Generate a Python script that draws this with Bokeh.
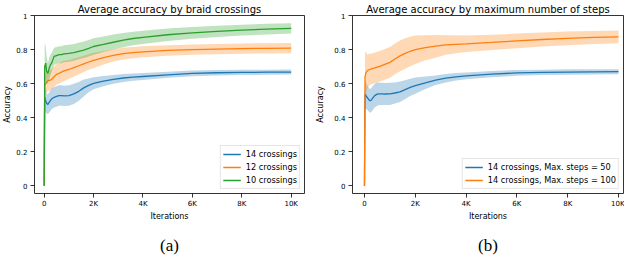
from bokeh.plotting import figure
from bokeh.layouts import row
from bokeh.models import Range1d, FixedTicker, Legend, LegendItem, Title
from bokeh.embed import file_html
from bokeh.resources import INLINE

# ---------------- data ----------------
X = [0, 20, 60, 100, 150, 200, 250, 300, 400, 500, 600, 700, 800, 1000, 1200,
     1400, 1600, 1800, 2000, 2400, 2800, 3200, 3600, 4000, 5000, 6000, 7000,
     8000, 9000, 10000]

# (a) 14 crossings
a14_mean = [0, 0.52, 0.50, 0.485, 0.478, 0.49, 0.50, 0.51, 0.52, 0.525, 0.53, 0.53, 0.528, 0.53, 0.54,
            0.555, 0.575, 0.59, 0.602, 0.615, 0.625, 0.633, 0.638, 0.642, 0.652, 0.66, 0.664,
            0.666, 0.667, 0.668]
a14_lo = [0, 0.44, 0.43, 0.425, 0.42, 0.43, 0.44, 0.45, 0.46, 0.465, 0.47, 0.47, 0.468, 0.47, 0.48,
          0.50, 0.525, 0.55, 0.567, 0.585, 0.60, 0.61, 0.617, 0.622, 0.634, 0.643, 0.648,
          0.65, 0.652, 0.653]
a14_hi = [0, 0.60, 0.57, 0.545, 0.536, 0.55, 0.56, 0.57, 0.58, 0.585, 0.59, 0.59, 0.588, 0.59, 0.60,
          0.61, 0.625, 0.63, 0.637, 0.645, 0.65, 0.656, 0.659, 0.662, 0.67, 0.677, 0.68,
          0.682, 0.682, 0.683]
# (a) 12 crossings
a12_mean = [0, 0.59, 0.60, 0.61, 0.615, 0.62, 0.62, 0.625, 0.64, 0.654, 0.66, 0.668, 0.675, 0.683, 0.694,
            0.705, 0.716, 0.727, 0.737, 0.752, 0.766, 0.776, 0.782, 0.787, 0.795, 0.800, 0.803,
            0.806, 0.807, 0.808]
a12_lo = [0, 0.53, 0.54, 0.55, 0.555, 0.56, 0.56, 0.565, 0.58, 0.594, 0.60, 0.608, 0.615, 0.628, 0.641,
          0.655, 0.668, 0.681, 0.692, 0.712, 0.73, 0.742, 0.749, 0.755, 0.764, 0.77, 0.773,
          0.776, 0.777, 0.778]
a12_hi = [0, 0.65, 0.66, 0.67, 0.675, 0.68, 0.68, 0.685, 0.70, 0.714, 0.72, 0.728, 0.735, 0.738, 0.747,
          0.755, 0.764, 0.773, 0.782, 0.792, 0.802, 0.810, 0.815, 0.819, 0.826, 0.830, 0.833,
          0.836, 0.837, 0.838]
# (a) 10 crossings
a10_mean = [0, 0.70, 0.72, 0.67, 0.66, 0.69, 0.71, 0.72, 0.76, 0.765, 0.77, 0.77, 0.775, 0.778, 0.782,
            0.79, 0.797, 0.807, 0.818, 0.83, 0.843, 0.855, 0.865, 0.872, 0.887, 0.898, 0.907,
            0.914, 0.92, 0.925]
a10_lo = [0, 0.58, 0.62, 0.60, 0.60, 0.63, 0.65, 0.67, 0.71, 0.715, 0.72, 0.72, 0.725, 0.728, 0.735,
          0.743, 0.75, 0.76, 0.77, 0.785, 0.800, 0.813, 0.825, 0.833, 0.850, 0.863, 0.874,
          0.882, 0.889, 0.895]
a10_hi = [0, 0.84, 0.82, 0.76, 0.72, 0.75, 0.77, 0.78, 0.81, 0.815, 0.82, 0.82, 0.825, 0.828, 0.832,
          0.84, 0.848, 0.856, 0.866, 0.877, 0.888, 0.897, 0.905, 0.911, 0.924, 0.933, 0.940,
          0.946, 0.951, 0.955]

# (b) Max. steps = 50
b50_mean = [0, 0.54, 0.53, 0.52, 0.51, 0.50, 0.50, 0.51, 0.53, 0.538, 0.54, 0.54, 0.539, 0.54, 0.545,
            0.552, 0.565, 0.578, 0.588, 0.605, 0.62, 0.632, 0.64, 0.646, 0.656, 0.663, 0.666,
            0.668, 0.669, 0.67]
b50_lo = [0, 0.46, 0.45, 0.45, 0.44, 0.43, 0.43, 0.44, 0.46, 0.47, 0.475, 0.475, 0.474, 0.475, 0.483,
          0.492, 0.51, 0.528, 0.54, 0.568, 0.592, 0.607, 0.618, 0.626, 0.638, 0.646, 0.65,
          0.652, 0.654, 0.655]
b50_hi = [0, 0.62, 0.61, 0.59, 0.58, 0.57, 0.57, 0.58, 0.60, 0.606, 0.605, 0.605, 0.604, 0.605, 0.607,
          0.612, 0.62, 0.628, 0.636, 0.642, 0.648, 0.657, 0.662, 0.666, 0.674, 0.68, 0.682,
          0.684, 0.684, 0.685]
# (b) Max. steps = 100
b100_mean = [0, 0.64, 0.665, 0.673, 0.68, 0.683, 0.685, 0.688, 0.692, 0.697, 0.702, 0.707, 0.713, 0.725, 0.745,
             0.763, 0.778, 0.79, 0.80, 0.812, 0.82, 0.827, 0.831, 0.834, 0.842, 0.851, 0.859,
             0.866, 0.871, 0.875]
b100_lo = [0, 0.50, 0.54, 0.57, 0.58, 0.59, 0.595, 0.598, 0.602, 0.607, 0.612, 0.617, 0.623, 0.635, 0.655,
           0.673, 0.688, 0.702, 0.716, 0.738, 0.752, 0.77, 0.778, 0.785, 0.797, 0.808, 0.818,
           0.826, 0.832, 0.837]
b100_hi = [0, 0.78, 0.79, 0.77, 0.775, 0.775, 0.775, 0.778, 0.782, 0.787, 0.792, 0.797, 0.803, 0.815, 0.835,
           0.853, 0.866, 0.875, 0.882, 0.884, 0.886, 0.884, 0.884, 0.883, 0.887, 0.894, 0.90,
           0.906, 0.909, 0.912]

X_TICKS = [0, 2000, 4000, 6000, 8000, 10000]
X_TICK_LABELS = ["0", "2K", "4K", "6K", "8K", "10K"]
Y_TICKS = [0, 0.2, 0.4, 0.6, 0.8, 1.0]
Y_TICK_LABELS = ["0", "0.2", "0.4", "0.6", "0.8", "1"]

BLUE, ORANGE, GREEN = "#1f77b4", "#ff7f0e", "#2ca02c"
FONT = "DejaVu Sans"


def make_panel(xr, border_left, border_right, title, caption, series, ylab_standoff):
    p = figure(width=312, height=264, output_backend="svg", toolbar_location=None,
               title=None, x_range=Range1d(*xr), y_range=Range1d(-0.045, 1.0),
               min_border_left=border_left, min_border_right=border_right,
               min_border_top=0, min_border_bottom=0)
    p.grid.visible = False
    p.outline_line_color = "black"
    p.outline_line_width = 0.8
    p.background_fill_color = "white"
    p.border_fill_color = "white"

    for ax in (p.xaxis[0], p.yaxis[0]):
        ax.axis_line_color = None
        ax.major_tick_in = 0
        ax.major_tick_out = 4
        ax.major_tick_line_color = "black"
        ax.major_tick_line_width = 0.8
        ax.minor_tick_line_color = None
        ax.major_label_text_font = FONT
        ax.major_label_text_font_size = "7px"
        ax.major_label_text_color = "black"
        ax.axis_label_text_font = FONT
        ax.axis_label_text_font_size = "8px"
        ax.axis_label_text_font_style = "normal"
        ax.axis_label_text_color = "black"
    p.xaxis[0].ticker = FixedTicker(ticks=X_TICKS)
    p.xaxis[0].major_label_overrides = dict(zip(X_TICKS, X_TICK_LABELS))
    p.xaxis[0].major_label_standoff = 2
    p.xaxis[0].axis_label = "Iterations"
    p.xaxis[0].axis_label_standoff = 1
    p.yaxis[0].ticker = FixedTicker(ticks=Y_TICKS)
    p.yaxis[0].major_label_overrides = dict(zip(Y_TICKS, Y_TICK_LABELS))
    p.yaxis[0].major_label_standoff = 3
    p.yaxis[0].axis_label = "Accuracy"
    p.yaxis[0].axis_label_standoff = ylab_standoff

    items = []
    for name, color, mean, lo, hi in series:
        p.varea(x=X, y1=lo, y2=hi, fill_color=color, fill_alpha=0.3)
        r = p.line(x=X, y=mean, line_color=color, line_width=1.3)
        items.append(LegendItem(label=name, renderers=[r]))

    leg = Legend(items=items, location="bottom_right", margin=4, padding=2,
                 spacing=1, glyph_width=18, glyph_height=12, label_height=12,
                 label_standoff=5, label_text_font=FONT, label_text_font_size="8.2px",
                 label_text_color="black", border_line_color="#cccccc",
                 border_line_width=1, background_fill_alpha=0.85)
    p.add_layout(leg)

    p.add_layout(Title(text=title, align="center", text_font=FONT, text_font_size="10px",
                       text_font_style="normal", text_color="black", standoff=2), "above")
    p.add_layout(Title(text=caption, align="center", text_font="Liberation Serif",
                       text_font_size="17px", text_font_style="normal", text_color="black",
                       standoff=20), "below")
    return p


p1 = make_panel((-393, 10539), 0, 8, "Average accuracy by braid crossings", "(a)",
                [("14 crossings", BLUE, a14_mean, a14_lo, a14_hi),
                 ("12 crossings", ORANGE, a12_mean, a12_lo, a12_hi),
                 ("10 crossings", GREEN, a10_mean, a10_lo, a10_hi)], 1)
p2 = make_panel((-472, 10197), 40, 1, "Average accuracy by maximum number of steps", "(b)",
                [("14 crossings, Max. steps = 50", BLUE, b50_mean, b50_lo, b50_hi),
                 ("14 crossings, Max. steps = 100", ORANGE, b100_mean, b100_lo, b100_hi)], 6)

layout = row(p1, p2)
open("out.html", "w").write(file_html(layout, INLINE))
